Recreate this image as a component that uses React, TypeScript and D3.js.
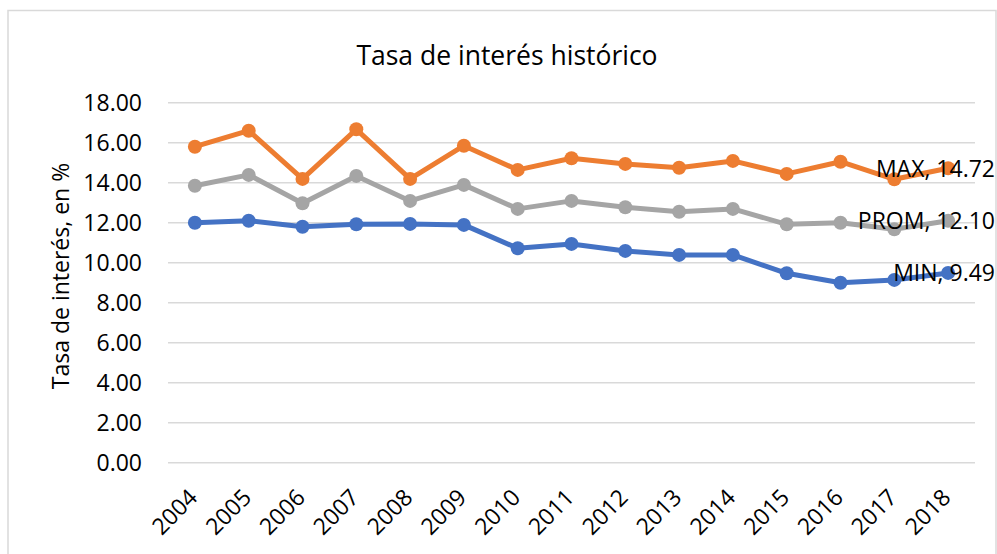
import React, { useEffect, useRef } from "react";
import * as d3 from "d3";

const years = ["2004", "2005", "2006", "2007", "2008", "2009", "2010", "2011", "2012", "2013", "2014", "2015", "2016", "2017", "2018"];
const maxValues = [15.8, 16.6, 14.19, 16.67, 14.19, 15.85, 14.64, 15.22, 14.94, 14.75, 15.09, 14.44, 15.05, 14.17, 14.72];
const promValues = [13.85, 14.39, 12.97, 14.34, 13.09, 13.89, 12.69, 13.09, 12.77, 12.55, 12.69, 11.92, 12.0, 11.67, 12.1];
const minValues = [12.0, 12.1, 11.8, 11.92, 11.94, 11.89, 10.72, 10.94, 10.59, 10.39, 10.39, 9.47, 9.0, 9.14, 9.49];
const yTicks = [0, 2, 4, 6, 8, 10, 12, 14, 16, 18];

const series = [
  { name: "MIN", values: minValues, color: "#4472C4" },
  { name: "MAX", values: maxValues, color: "#ED7D31" },
  { name: "PROM", values: promValues, color: "#A5A5A5" },
];

const W = 997;
const H = 554;
const FONT = "'Open Sans', 'Noto Sans', sans-serif";

export default function App() {
  const ref = useRef<SVGSVGElement>(null);

  useEffect(() => {
    const svg = d3.select(ref.current);
    svg.selectAll("*").remove();

    const left = 168, right = 975, top = 102.7, bottom = 462.7;

    const x = d3.scaleBand().domain(years).range([left, right]).padding(0);
    const y = d3.scaleLinear().domain([0, 18]).range([bottom, top]);
    const cx = (d: string) => (x(d) as number) + x.bandwidth() / 2;

    svg.append("rect")
      .attr("x", 8).attr("y", 10.5)
      .attr("width", 988).attr("height", 560)
      .attr("fill", "#fff")
      .attr("stroke", "#d9d9d9")
      .attr("stroke-width", 1.5);

    // title
    svg.append("text")
      .attr("x", 507).attr("y", 65)
      .attr("text-anchor", "middle")
      .attr("font-family", FONT)
      .attr("font-size", 26.5)
      .attr("fill", "#000")
      .text("Tasa de interés histórico");

    // grid + y labels
    const grid = svg.append("g");
    grid.selectAll("line")
      .data(yTicks)
      .join("line")
      .attr("x1", left).attr("x2", right)
      .attr("y1", d => y(d)).attr("y2", d => y(d))
      .attr("stroke", "#d9d9d9")
      .attr("stroke-width", 1.5);

    grid.selectAll("text")
      .data(yTicks)
      .join("text")
      .attr("x", 142)
      .attr("y", d => y(d))
      .attr("dy", "0.36em")
      .attr("text-anchor", "end")
      .attr("font-family", FONT)
      .attr("font-size", 23)
      .attr("fill", "#000")
      .text(d => d.toFixed(2));

    // x labels
    svg.append("g")
      .selectAll("text")
      .data(years)
      .join("text")
      .attr("transform", d => `translate(${cx(d) + 4}, 499) rotate(-45)`)
      .attr("text-anchor", "end")
      .attr("font-family", FONT)
      .attr("font-size", 23)
      .attr("fill", "#000")
      .text(d => d);

    // y axis title
    svg.append("text")
      .attr("transform", "translate(61, 276) rotate(-90)")
      .attr("text-anchor", "middle")
      .attr("dy", "0.36em")
      .attr("font-family", FONT)
      .attr("font-size", 23)
      .attr("fill", "#000")
      .text("Tasa de interés, en %");

    const line = d3.line<number>()
      .x((_, i) => cx(years[i]))
      .y(d => y(d));

    series.forEach(s => {
      const g = svg.append("g");
      g.append("path")
        .attr("d", line(s.values))
        .attr("fill", "none")
        .attr("stroke", s.color)
        .attr("stroke-width", 5)
        .attr("stroke-linejoin", "round");
      g.selectAll("circle")
        .data(s.values)
        .join("circle")
        .attr("cx", (_, i) => cx(years[i]))
        .attr("cy", d => y(d))
        .attr("r", 7)
        .attr("fill", s.color);
    });

    // end labels
    series.forEach(s => {
      const last = s.values[s.values.length - 1];
      svg.append("text")
        .attr("x", 995)
        .attr("y", y(last))
        .attr("dy", "0.36em")
        .attr("text-anchor", "end")
        .attr("font-family", FONT)
        .attr("font-size", 23)
        .attr("fill", "#000")
        .text(`${s.name}, ${last.toFixed(2)}`);
    });
  }, []);

  return (
    <svg
      ref={ref}
      width={W}
      height={H}
      style={{ position: "absolute", left: 0, top: 0, display: "block", background: "#fff" }}
    />
  );
}
